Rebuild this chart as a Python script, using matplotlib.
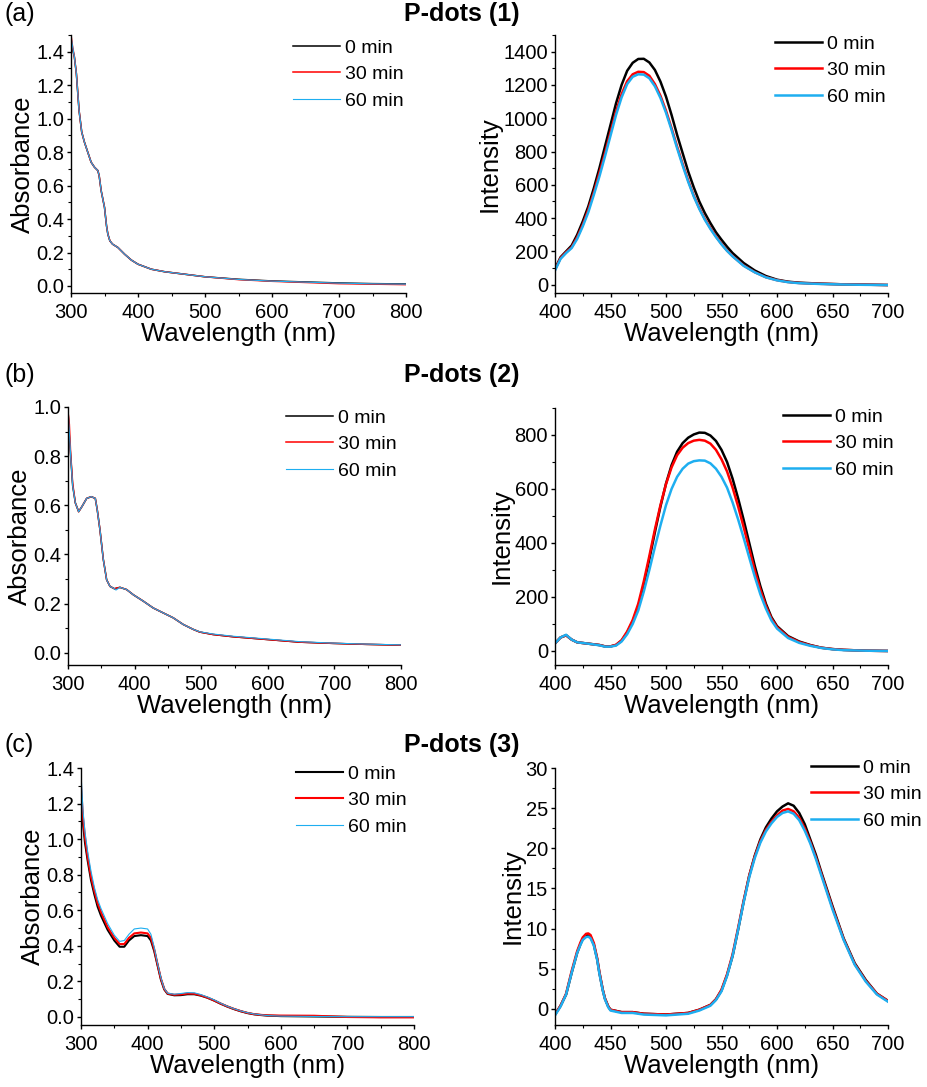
import numpy as np
import matplotlib
matplotlib.use("Agg")
import matplotlib.pyplot as plt
from matplotlib.ticker import MultipleLocator, AutoMinorLocator, FormatStrFormatter

plt.rcParams["font.family"] = ["Liberation Sans", "DejaVu Sans"]

BLACK = "#000000"
RED = "#FF0000"
BLUE = "#1EAEF0"
LABELS = ["0 min", "30 min", "60 min"]

# (a) P-dots (1) absorbance
abs1_wl = [300, 302, 305, 308, 312, 316, 320, 325, 330, 335, 340, 342, 345, 348, 350, 353,
           355, 358, 362, 370, 380, 390, 400, 420, 440, 460, 500, 550, 600, 650, 700, 750, 800]
abs1_0 = [1.42, 1.42, 1.37, 1.27, 1.05, 0.92, 0.86, 0.80, 0.74, 0.71, 0.69, 0.66, 0.57, 0.51, 0.47,
          0.36, 0.31, 0.27, 0.25, 0.23, 0.19, 0.155, 0.13, 0.10, 0.085, 0.075, 0.055, 0.040, 0.030,
          0.024, 0.018, 0.014, 0.012]
abs1_30 = [1.50, 1.44, 1.37, 1.27, 1.05, 0.92, 0.86, 0.80, 0.74, 0.71, 0.69, 0.66, 0.57, 0.51, 0.47,
           0.36, 0.31, 0.27, 0.25, 0.23, 0.19, 0.155, 0.13, 0.10, 0.085, 0.075, 0.055, 0.038, 0.028,
           0.021, 0.014, 0.011, 0.008]
abs1_60 = [1.49, 1.44, 1.37, 1.27, 1.05, 0.92, 0.86, 0.80, 0.74, 0.71, 0.69, 0.66, 0.57, 0.51, 0.47,
           0.36, 0.31, 0.27, 0.25, 0.23, 0.19, 0.155, 0.13, 0.10, 0.085, 0.075, 0.055, 0.039, 0.029,
           0.023, 0.017, 0.013, 0.011]

# (a) P-dots (1) emission
em1_wl = [400, 405, 410, 415, 420, 425, 430, 435, 440, 445, 450, 455, 460, 465, 470, 475, 480,
          485, 490, 495, 500, 505, 510, 515, 520, 525, 530, 535, 540, 545, 550, 555, 560, 570,
          580, 590, 600, 610, 620, 640, 660, 680, 700]
em1_0 = [95, 165, 200, 235, 300, 380, 470, 580, 700, 830, 960, 1090, 1200, 1285, 1333, 1356, 1357,
         1335, 1290, 1220, 1130, 1020, 900, 790, 680, 585, 500, 430, 370, 315, 270, 228, 190, 130,
         85, 52, 30, 18, 12, 6, 2, 0, -2]
em1_30 = [90, 160, 195, 225, 285, 360, 450, 555, 670, 790, 915, 1040, 1145, 1222, 1264, 1279, 1277,
          1255, 1205, 1135, 1045, 940, 830, 725, 625, 535, 460, 395, 340, 290, 245, 205, 172, 115,
          75, 45, 27, 16, 10, 5, 2, 0, -2]
em1_60 = [85, 155, 190, 220, 275, 350, 435, 540, 650, 770, 895, 1020, 1125, 1205, 1249, 1264, 1262,
          1240, 1192, 1122, 1033, 930, 820, 716, 618, 530, 455, 390, 335, 286, 242, 203, 170, 113,
          74, 44, 26, 15, 9, 4, 1, -1, -2]

# (b) P-dots (2) absorbance
abs2_wl = [300, 302, 304, 307, 311, 316, 321, 328, 335, 341, 344, 348, 353, 358, 363, 370, 372,
           378, 388, 398, 413, 428, 443, 458, 473, 488, 498, 518, 548, 598, 648, 698, 748, 800]
abs2_0 = [0.99, 0.88, 0.80, 0.68, 0.61, 0.574, 0.595, 0.628, 0.635, 0.628, 0.58, 0.50, 0.38, 0.297,
          0.27, 0.26, 0.262, 0.266, 0.257, 0.236, 0.21, 0.182, 0.162, 0.142, 0.115, 0.095, 0.084,
          0.074, 0.065, 0.054, 0.043, 0.038, 0.034, 0.031]
abs2_30 = [0.98, 0.93, 0.81, 0.69, 0.61, 0.574, 0.595, 0.628, 0.635, 0.628, 0.58, 0.50, 0.38, 0.297,
           0.27, 0.26, 0.262, 0.266, 0.257, 0.236, 0.21, 0.182, 0.162, 0.142, 0.115, 0.095, 0.084,
           0.074, 0.065, 0.054, 0.043, 0.038, 0.034, 0.031]
abs2_60 = [0.99, 0.90, 0.80, 0.68, 0.61, 0.574, 0.595, 0.628, 0.635, 0.628, 0.58, 0.50, 0.38, 0.297,
           0.27, 0.26, 0.255, 0.266, 0.257, 0.236, 0.21, 0.182, 0.162, 0.142, 0.115, 0.095, 0.085,
           0.076, 0.067, 0.056, 0.045, 0.039, 0.035, 0.032]

# (b) P-dots (2) emission
em2_wl = [400, 405, 410, 415, 420, 430, 440, 445, 450, 455, 460, 465, 470, 475, 480, 485, 490, 495,
          500, 505, 510, 515, 520, 525, 530, 535, 540, 545, 550, 555, 560, 565, 570, 575, 580, 585,
          590, 595, 600, 610, 620, 630, 640, 650, 660, 680, 700]
em2_0 = [28, 50, 58, 42, 32, 27, 22, 17, 17, 22, 38, 68, 108, 165, 245, 340, 440, 535, 620, 688,
         738, 770, 790, 802, 809, 808, 798, 778, 745, 700, 638, 565, 485, 400, 315, 240, 175, 125,
         92, 55, 35, 22, 12, 7, 4, 1, 0]
em2_30 = [28, 50, 58, 42, 32, 27, 22, 17, 17, 23, 40, 72, 115, 175, 258, 352, 450, 540, 618, 680,
          725, 753, 770, 779, 782, 779, 768, 745, 710, 665, 605, 535, 458, 378, 297, 227, 167, 120,
          88, 52, 33, 21, 12, 7, 4, 1, 0]
em2_60 = [28, 50, 60, 42, 32, 27, 21, 16, 16, 20, 35, 62, 100, 150, 220, 300, 385, 465, 540, 600,
          645, 675, 694, 703, 706, 705, 695, 675, 645, 605, 550, 487, 418, 346, 275, 210, 157, 113,
          83, 48, 30, 19, 11, 6, 3, 1, 0]

# (c) P-dots (3) absorbance
abs3_wl = [300, 303, 306, 310, 315, 320, 325, 330, 340, 350, 358, 365, 372, 380, 390, 400, 405,
           410, 415, 420, 425, 430, 440, 450, 460, 470, 480, 490, 500, 510, 520, 530, 540, 550,
           560, 570, 580, 600, 650, 700, 750, 800]
abs3_0 = [1.24, 1.09, 0.98, 0.88, 0.77, 0.69, 0.62, 0.57, 0.49, 0.43, 0.395, 0.395, 0.43, 0.455,
          0.46, 0.455, 0.43, 0.37, 0.29, 0.21, 0.155, 0.13, 0.122, 0.123, 0.128, 0.128, 0.12, 0.108,
          0.092, 0.074, 0.058, 0.044, 0.032, 0.022, 0.015, 0.011, 0.008, 0.005, 0.003, 0.001, 0.0,
          0.0]
abs3_30 = [1.30, 1.12, 1.01, 0.90, 0.79, 0.71, 0.64, 0.59, 0.505, 0.445, 0.41, 0.41, 0.445, 0.47,
           0.475, 0.47, 0.445, 0.38, 0.295, 0.215, 0.158, 0.132, 0.125, 0.127, 0.132, 0.131, 0.122,
           0.109, 0.093, 0.075, 0.059, 0.045, 0.033, 0.023, 0.016, 0.012, 0.009, 0.008, 0.007,
           0.0, -0.002, -0.002]
abs3_60 = [1.37, 1.16, 1.04, 0.93, 0.82, 0.73, 0.66, 0.61, 0.525, 0.46, 0.425, 0.43, 0.465, 0.495,
           0.50, 0.495, 0.465, 0.39, 0.30, 0.22, 0.16, 0.134, 0.128, 0.132, 0.137, 0.136, 0.126,
           0.112, 0.096, 0.077, 0.060, 0.046, 0.034, 0.024, 0.017, 0.012, 0.008, 0.005, 0.003,
           0.002, 0.002, 0.002]

# (c) P-dots (3) emission
em3_wl = [400, 405, 410, 415, 420, 423, 425, 428, 430, 432, 435, 438, 440, 443, 445, 448, 450, 460,
          470, 480, 500, 520, 530, 540, 545, 550, 555, 560, 565, 570, 575, 580, 585, 590, 595, 600,
          605, 610, 615, 620, 625, 630, 635, 640, 645, 650, 660, 670, 680, 690, 700]
em3_0 = [-0.7, 0.4, 1.8, 4.5, 7.0, 8.1, 8.7, 9.15, 9.2, 9.0, 8.0, 6.2, 4.5, 2.4, 1.3, 0.3, -0.1,
         -0.4, -0.4, -0.6, -0.7, -0.5, -0.1, 0.5, 1.2, 2.3, 4.2, 6.6, 9.9, 13.4, 16.6, 19.1, 21.1,
         22.6, 23.7, 24.6, 25.2, 25.6, 25.3, 24.4, 23.0, 21.1, 19.2, 17.0, 14.9, 12.8, 8.8, 5.7,
         3.6, 1.9, 1.0]
em3_30 = [-0.7, 0.4, 1.9, 4.7, 7.2, 8.3, 8.9, 9.35, 9.4, 9.2, 8.2, 6.3, 4.6, 2.4, 1.3, 0.3, -0.1,
          -0.4, -0.4, -0.6, -0.7, -0.5, -0.1, 0.5, 1.2, 2.4, 4.3, 6.8, 10.1, 13.5, 16.6, 19.0, 20.9,
          22.3, 23.3, 24.1, 24.7, 24.9, 24.6, 23.8, 22.5, 20.8, 18.9, 16.8, 14.7, 12.6, 8.7, 5.6,
          3.5, 1.9, 1.0]
em3_60 = [-0.8, 0.3, 1.8, 4.5, 7.0, 8.0, 8.6, 8.95, 9.0, 8.8, 7.9, 6.1, 4.4, 2.3, 1.2, 0.2, -0.2,
          -0.5, -0.5, -0.7, -0.8, -0.6, -0.2, 0.4, 1.1, 2.2, 4.1, 6.6, 9.9, 13.3, 16.4, 18.8, 20.7,
          22.1, 23.1, 23.9, 24.4, 24.6, 24.3, 23.5, 22.2, 20.6, 18.7, 16.6, 14.5, 12.4, 8.6, 5.5,
          3.4, 1.8, 0.9]

fig = plt.figure(figsize=(9.27, 10.87), dpi=100)
W, H = 927.0, 1087.0


def make_axes(x0, x1, y0, y1):
    return fig.add_axes([x0 / W, 1 - y1 / H, (x1 - x0) / W, (y1 - y0) / H])


def style_axes(ax, xlim, ylim, xstep, ystep, ylabel):
    ax.set_xlim(*xlim)
    ax.set_ylim(*ylim)
    ax.xaxis.set_major_locator(MultipleLocator(xstep))
    ax.yaxis.set_major_locator(MultipleLocator(ystep))
    ax.xaxis.set_minor_locator(AutoMinorLocator(2))
    ax.yaxis.set_minor_locator(AutoMinorLocator(2))
    for side in ["top", "right"]:
        ax.spines[side].set_visible(False)
    for side in ["left", "bottom"]:
        ax.spines[side].set_linewidth(1.0)
    ax.tick_params(which="major", direction="out", length=3, width=1.0, labelsize=14.5)
    ax.tick_params(axis="x", which="major", pad=4)
    ax.tick_params(axis="y", which="major", pad=2)
    ax.tick_params(which="minor", direction="out", length=2, width=0.8)
    ax.set_xlabel("Wavelength (nm)", fontsize=18.5, labelpad=0)
    ax.set_ylabel(ylabel, fontsize=18.5, labelpad=1)


def add_legend(ax, x_px, y_px, ax_box):
    x0, x1, y0, y1 = ax_box
    bx = (x_px - x0) / (x1 - x0)
    by = 1 - (y_px - 11 - y0) / (y1 - y0)
    ax.legend(loc="upper left", bbox_to_anchor=(bx, by), frameon=False, fontsize=14,
              handlelength=2.4, handletextpad=0.28, labelspacing=0.46, borderpad=0,
              borderaxespad=0)


panels = [
    dict(box=(71, 406, 35, 293), wl=abs1_wl, ys=(abs1_0, abs1_30, abs1_60), lw=(1.1, 1.1, 0.8),
         xlim=(300, 800), ylim=(-0.042, 1.5), xs=100, ys_step=0.2, yl="Absorbance", leg=(293, 50)),
    dict(box=(555, 888, 35, 293), wl=em1_wl, ys=(em1_0, em1_30, em1_60), lw=(1.8, 1.8, 1.8),
         xlim=(400, 700), ylim=(-50, 1500), xs=50, ys_step=200, yl="Intensity", leg=(775, 46)),
    dict(box=(68, 401, 407, 665), wl=abs2_wl, ys=(abs2_0, abs2_30, abs2_60), lw=(1.1, 1.1, 0.8),
         xlim=(300, 800), ylim=(-0.05, 1.0), xs=100, ys_step=0.2, yl="Absorbance", leg=(286, 420)),
    dict(box=(555, 888, 408, 665), wl=em2_wl, ys=(em2_0, em2_30, em2_60), lw=(1.8, 1.8, 1.8),
         xlim=(400, 700), ylim=(-52, 900), xs=50, ys_step=200, yl="Intensity", leg=(783, 419)),
    dict(box=(81, 414, 768, 1025), wl=abs3_wl, ys=(abs3_0, abs3_30, abs3_60), lw=(1.5, 1.5, 0.8),
         xlim=(300, 800), ylim=(-0.045, 1.4), xs=100, ys_step=0.2, yl="Absorbance", leg=(296, 776)),
    dict(box=(555, 888, 768, 1025), wl=em3_wl, ys=(em3_0, em3_30, em3_60), lw=(1.8, 1.8, 1.8),
         xlim=(400, 700), ylim=(-2, 30), xs=50, ys_step=5, yl="Intensity", leg=(811, 770)),
]

for p in panels:
    ax = make_axes(*p["box"])
    for y, c, lw, lab in zip(p["ys"], (BLACK, RED, BLUE), p["lw"], LABELS):
        ax.plot(p["wl"], y, color=c, lw=lw, label=lab)
    style_axes(ax, p["xlim"], p["ylim"], p["xs"], p["ys_step"], p["yl"])
    if p["yl"] == "Absorbance":
        ax.yaxis.set_major_formatter(FormatStrFormatter("%.1f"))
    add_legend(ax, p["leg"][0], p["leg"][1], p["box"])

titles = ["P-dots (1)", "P-dots (2)", "P-dots (3)"]
letters = ["(a)", "(b)", "(c)"]
title_y = [14, 375, 745]
for t, l, y in zip(titles, letters, title_y):
    fig.text(462 / W, 1 - y / H, t, ha="center", va="center", fontsize=18, fontweight="bold")
    fig.text(4 / W, 1 - y / H, l, ha="left", va="center", fontsize=18)

fig.savefig("out.png", dpi=100)
